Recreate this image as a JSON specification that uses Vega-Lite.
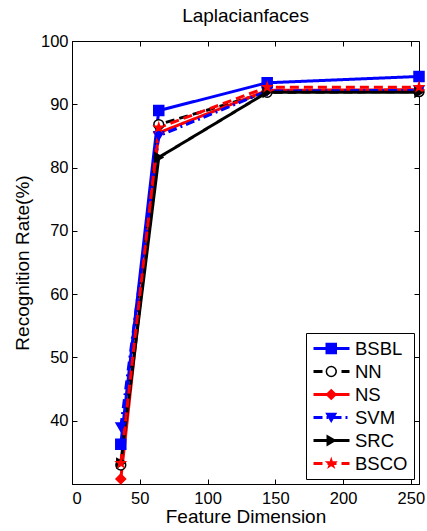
{
  "$schema": "https://vega.github.io/schema/vega-lite/v6.json",
  "width": 347,
  "height": 443,
  "autosize": "none",
  "padding": {"left": 72, "top": 41, "right": 8, "bottom": 47},
  "background": "white",
  "title": {"text": "Laplacianfaces", "fontSize": 19, "fontWeight": "normal", "font": "Liberation Sans", "color": "black", "offset": 7},
  "data": {"values": [
    {"dim": 36, "rate": 36.3, "series": "BSBL", "order": 1},
    {"dim": 64, "rate": 89.0, "series": "BSBL", "order": 1},
    {"dim": 144, "rate": 93.4, "series": "BSBL", "order": 1},
    {"dim": 256, "rate": 94.4, "series": "BSBL", "order": 1},
    {"dim": 36, "rate": 33.0, "series": "NN", "order": 2},
    {"dim": 64, "rate": 86.8, "series": "NN", "order": 2},
    {"dim": 144, "rate": 91.9, "series": "NN", "order": 2},
    {"dim": 256, "rate": 92.0, "series": "NN", "order": 2},
    {"dim": 36, "rate": 30.8, "series": "NS", "order": 3},
    {"dim": 64, "rate": 85.5, "series": "NS", "order": 3},
    {"dim": 144, "rate": 92.2, "series": "NS", "order": 3},
    {"dim": 256, "rate": 92.3, "series": "NS", "order": 3},
    {"dim": 36, "rate": 39.0, "series": "SVM", "order": 4},
    {"dim": 64, "rate": 85.0, "series": "SVM", "order": 4},
    {"dim": 144, "rate": 92.1, "series": "SVM", "order": 4},
    {"dim": 256, "rate": 92.2, "series": "SVM", "order": 4},
    {"dim": 36, "rate": 33.3, "series": "SRC", "order": 5},
    {"dim": 64, "rate": 81.6, "series": "SRC", "order": 5},
    {"dim": 144, "rate": 91.9, "series": "SRC", "order": 5},
    {"dim": 256, "rate": 91.9, "series": "SRC", "order": 5},
    {"dim": 36, "rate": 33.3, "series": "BSCO", "order": 6},
    {"dim": 64, "rate": 86.3, "series": "BSCO", "order": 6},
    {"dim": 144, "rate": 92.7, "series": "BSCO", "order": 6},
    {"dim": 256, "rate": 92.7, "series": "BSCO", "order": 6}
  ]},
  "resolve": {"axis": {"x": "independent", "y": "independent"}},
  "layer": [
    {
      "mark": {"type": "line", "strokeWidth": 3, "clip": true},
      "encoding": {
        "x": {"field": "dim", "type": "quantitative", "scale": {"domain": [0, 256], "nice": false, "zero": false},
          "axis": {"title": "Feature Dimension", "values": [0, 50, 100, 150, 200, 250], "tickSize": -5, "labelPadding": 11, "titlePadding": 1, "domain": true, "grid": false}},
        "y": {"field": "rate", "type": "quantitative", "scale": {"domain": [30, 100], "nice": false, "zero": false},
          "axis": {"title": "Recognition Rate(%)", "values": [40, 50, 60, 70, 80, 90, 100], "tickSize": -5, "labelPadding": 9, "titlePadding": 8, "domain": true, "grid": false}},
        "color": {"field": "series", "type": "nominal", "sort": {"field": "order", "op": "min"},
          "scale": {"range": ["#0000ff", "#000000", "#ff0000", "#0000ff", "#000000", "#ff0000"]},
          "legend": {"orient": "none", "legendX": 234, "legendY": 292, "title": null, "symbolType": "stroke", "symbolSize": 1296, "symbolStrokeWidth": 3,
            "clipHeight": 19, "rowPadding": 4, "columnPadding": 0, "padding": 6, "labelOffset": 4, "labelFontSize": 18.5, "labelFont": "Liberation Sans", "labelColor": "black",
            "strokeColor": "black", "fillColor": "white", "cornerRadius": 0, "zindex": 1, "labelLimit": 200}},
        "strokeDash": {"field": "series", "type": "nominal", "sort": {"field": "order", "op": "min"},
          "scale": {"range": [[1, 0], [9, 5], [1, 0], [9, 4, 2, 4], [1, 0], [9, 5]]},
          "legend": {"orient": "none", "legendX": 234, "legendY": 292, "title": null, "symbolType": "stroke", "symbolSize": 1296, "symbolStrokeWidth": 3,
            "clipHeight": 19, "rowPadding": 4, "columnPadding": 0, "padding": 6, "labelOffset": 4, "labelFontSize": 18.5, "labelFont": "Liberation Sans", "labelColor": "black",
            "strokeColor": "black", "fillColor": "white", "cornerRadius": 0, "zindex": 1, "labelLimit": 200}}
      }
    },
    {
      "mark": {"type": "point", "filled": false, "strokeWidth": 1.5, "opacity": 1},
      "encoding": {
        "x": {"field": "dim", "type": "quantitative", "axis": null},
        "y": {"field": "rate", "type": "quantitative", "axis": null},
        "shape": {"field": "series", "type": "nominal",
          "scale": {"domain": ["BSBL", "NN", "NS", "SVM", "SRC", "BSCO"], "range": ["square", "circle", "diamond", "triangle-down", "triangle-right", "M0,-1L0.2245,-0.309L0.9511,-0.309L0.3633,0.118L0.5878,0.809L0,0.382L-0.5878,0.809L-0.3633,0.118L-0.9511,-0.309L-0.2245,-0.309Z"]},
          "legend": {"orient": "none", "legendX": 244, "legendY": 292, "title": null, "symbolStrokeWidth": 1.5, "labelExpr": "''",
            "clipHeight": 19, "rowPadding": 4, "padding": 6, "labelOffset": 0, "labelFontSize": 18.5, "labelFont": "Liberation Sans", "labelColor": "transparent", "zindex": 2}},
        "fill": {"field": "series", "type": "nominal",
          "scale": {"domain": ["BSBL", "NN", "NS", "SVM", "SRC", "BSCO"], "range": ["#0000ff", "#ffffff", "#ff0000", "#0000ff", "#000000", "#ff0000"]},
          "legend": {"orient": "none", "legendX": 244, "legendY": 292, "title": null, "symbolStrokeWidth": 1.5, "labelExpr": "''",
            "clipHeight": 19, "rowPadding": 4, "padding": 6, "labelOffset": 0, "labelFontSize": 18.5, "labelFont": "Liberation Sans", "labelColor": "transparent", "zindex": 2}},
        "stroke": {"field": "series", "type": "nominal",
          "scale": {"domain": ["BSBL", "NN", "NS", "SVM", "SRC", "BSCO"], "range": ["#0000ff", "#000000", "#ff0000", "#0000ff", "#000000", "#ff0000"]},
          "legend": {"orient": "none", "legendX": 244, "legendY": 292, "title": null, "symbolStrokeWidth": 1.5, "labelExpr": "''",
            "clipHeight": 19, "rowPadding": 4, "padding": 6, "labelOffset": 0, "labelFontSize": 18.5, "labelFont": "Liberation Sans", "labelColor": "transparent", "zindex": 2}},
        "size": {"field": "series", "type": "nominal",
          "scale": {"domain": ["BSBL", "NN", "NS", "SVM", "SRC", "BSCO"], "range": [100, 81, 150, 140, 140, 280]},
          "legend": {"orient": "none", "legendX": 244, "legendY": 292, "title": null, "symbolStrokeWidth": 1.5, "labelExpr": "''",
            "clipHeight": 19, "rowPadding": 4, "padding": 6, "labelOffset": 0, "labelFontSize": 18.5, "labelFont": "Liberation Sans", "labelColor": "transparent", "zindex": 2}}
      }
    },
    {
      "mark": {"type": "point", "opacity": 0},
      "encoding": {
        "x": {"field": "dim", "type": "quantitative", "axis": {"orient": "top", "title": null, "labels": false, "domain": false, "values": [0, 50, 100, 150, 200, 250], "tickSize": -5, "grid": false}},
        "y": {"field": "rate", "type": "quantitative", "axis": {"orient": "right", "title": null, "labels": false, "domain": false, "values": [30, 40, 50, 60, 70, 80, 90, 100], "tickSize": -5, "grid": false}}
      }
    }
  ],
  "config": {
    "view": {"stroke": "black", "strokeWidth": 1},
    "axis": {"domainColor": "black", "tickColor": "black", "labelColor": "black", "titleColor": "black", "labelFont": "Liberation Sans", "titleFont": "Liberation Sans", "labelFontSize": 16.5, "titleFontSize": 19, "titleFontWeight": "normal", "domainWidth": 1, "tickWidth": 1}
  }
}
